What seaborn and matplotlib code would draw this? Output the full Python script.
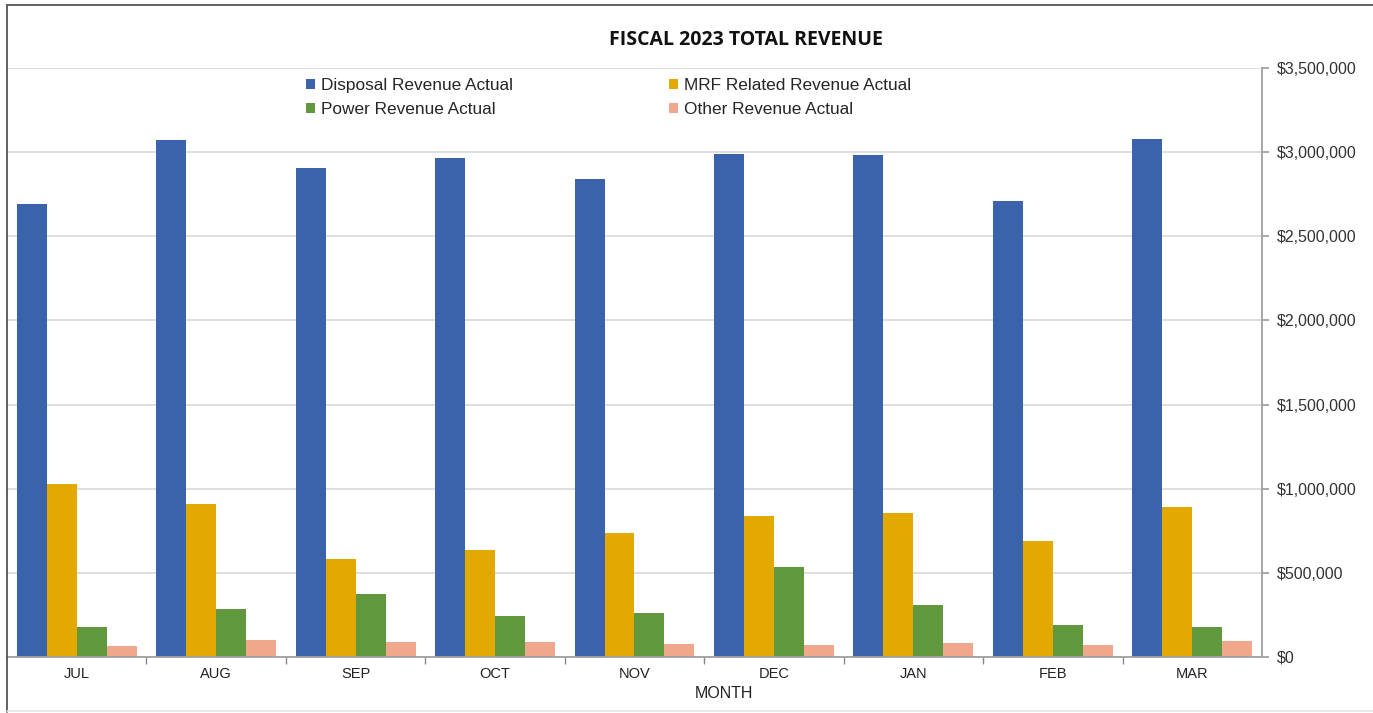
import matplotlib
matplotlib.use("Agg")
import matplotlib.pyplot as plt
import matplotlib.ticker as mticker
from matplotlib.lines import Line2D
import pandas as pd
import seaborn as sns

sns.set_theme(style="white")
plt.rcParams["font.family"] = ["Liberation Sans", "DejaVu Sans"]

months = ["JUL", "AUG", "SEP", "OCT", "NOV", "DEC", "JAN", "FEB", "MAR"]
disposal = [2692000, 3072000, 2906000, 2965000, 2840000, 2989000, 2983000, 2710000, 3078000]
mrf = [1028000, 909000, 582000, 636000, 737000, 838000, 856000, 689000, 891000]
power = [178000, 285000, 374000, 244000, 261000, 535000, 309000, 190000, 178000]
other = [65000, 101000, 89000, 89000, 77000, 71000, 83000, 71000, 95000]

series = ["Disposal Revenue Actual", "MRF Related Revenue Actual",
          "Power Revenue Actual", "Other Revenue Actual"]
colors = ["#3A63AC", "#E2A900", "#62983D", "#F1A78C"]

df = pd.DataFrame({
    "month": months * 4,
    "series": [s for s in series for _ in months],
    "value": disposal + mrf + power + other,
})

fig = plt.figure(figsize=(13.73, 7.13), dpi=100)
ax = fig.add_axes([7 / 1373, 1 - 657 / 713, 1255 / 1373, 589 / 713])

sns.barplot(data=df, x="month", y="value", hue="series", order=months,
            hue_order=series, palette=colors, width=0.86, gap=0,
            saturation=1, linewidth=0, ax=ax, legend=True)

ax.set_ylim(0, 3500000)
ax.set_xlim(-0.5, len(months) - 0.5)
ax.yaxis.tick_right()
ax.yaxis.set_major_locator(mticker.MultipleLocator(500000))
ax.yaxis.set_major_formatter(mticker.StrMethodFormatter("${x:,.0f}"))
ax.grid(axis="y", color="#D9D9D9", linewidth=1.2)
ax.set_axisbelow(True)

for side in ["left", "top"]:
    ax.spines[side].set_visible(False)
for side in ["right", "bottom"]:
    ax.spines[side].set_color("#A0A0A0")
    ax.spines[side].set_linewidth(1.3)

ax.tick_params(axis="y", which="major", right=True, length=5, color="#A0A0A0",
               labelsize=11.5, labelcolor="#333333", pad=6)
ax.tick_params(axis="x", which="major", bottom=False, labelsize=10.5,
               labelcolor="#222222", pad=1)
ax.set_xticks(range(len(months)))
ax.set_xticklabels(months)
ax.xaxis.set_minor_locator(mticker.FixedLocator([i + 0.5 for i in range(len(months) - 1)]))
ax.tick_params(axis="x", which="minor", bottom=True, length=5, color="#888888", width=1)

ax.set_ylabel("")
ax.set_xlabel("MONTH", fontsize=11.5, color="#222222")
ax.xaxis.set_label_coords((724 - 7) / 1255, -0.05)

handles, labels = ax.get_legend_handles_labels()
order = [0, 2, 1, 3]
ax.legend([handles[i] for i in order], [labels[i] for i in order], ncol=2,
          loc="upper left", frameon=False,
          bbox_to_anchor=(306 / 1373, 1 - 78 / 713), bbox_transform=fig.transFigure,
          fontsize=12.4, handlelength=0.5, handleheight=0.5, handletextpad=0.35,
          columnspacing=9.1, labelspacing=0.55, borderaxespad=0, borderpad=0)

fig.text(746 / 1373, 1 - 40 / 713, "FISCAL 2023 TOTAL REVENUE", ha="center", va="center",
         fontsize=14, fontweight="bold", family=["Open Sans", "DejaVu Sans"], color="#111111")

# chart frame
fig.add_artist(Line2D([7 / 1373, 7 / 1373], [1 / 713, 1 - 5 / 713], transform=fig.transFigure,
                      color="#555555", linewidth=1.3))
fig.add_artist(Line2D([7 / 1373, 1], [1 - 5 / 713, 1 - 5 / 713], transform=fig.transFigure,
                      color="#555555", linewidth=1.3))
fig.add_artist(Line2D([7 / 1373, 1], [2 / 713, 2 / 713], transform=fig.transFigure,
                      color="#E4E4E4", linewidth=1.2))

fig.savefig("out.png", dpi=100)
